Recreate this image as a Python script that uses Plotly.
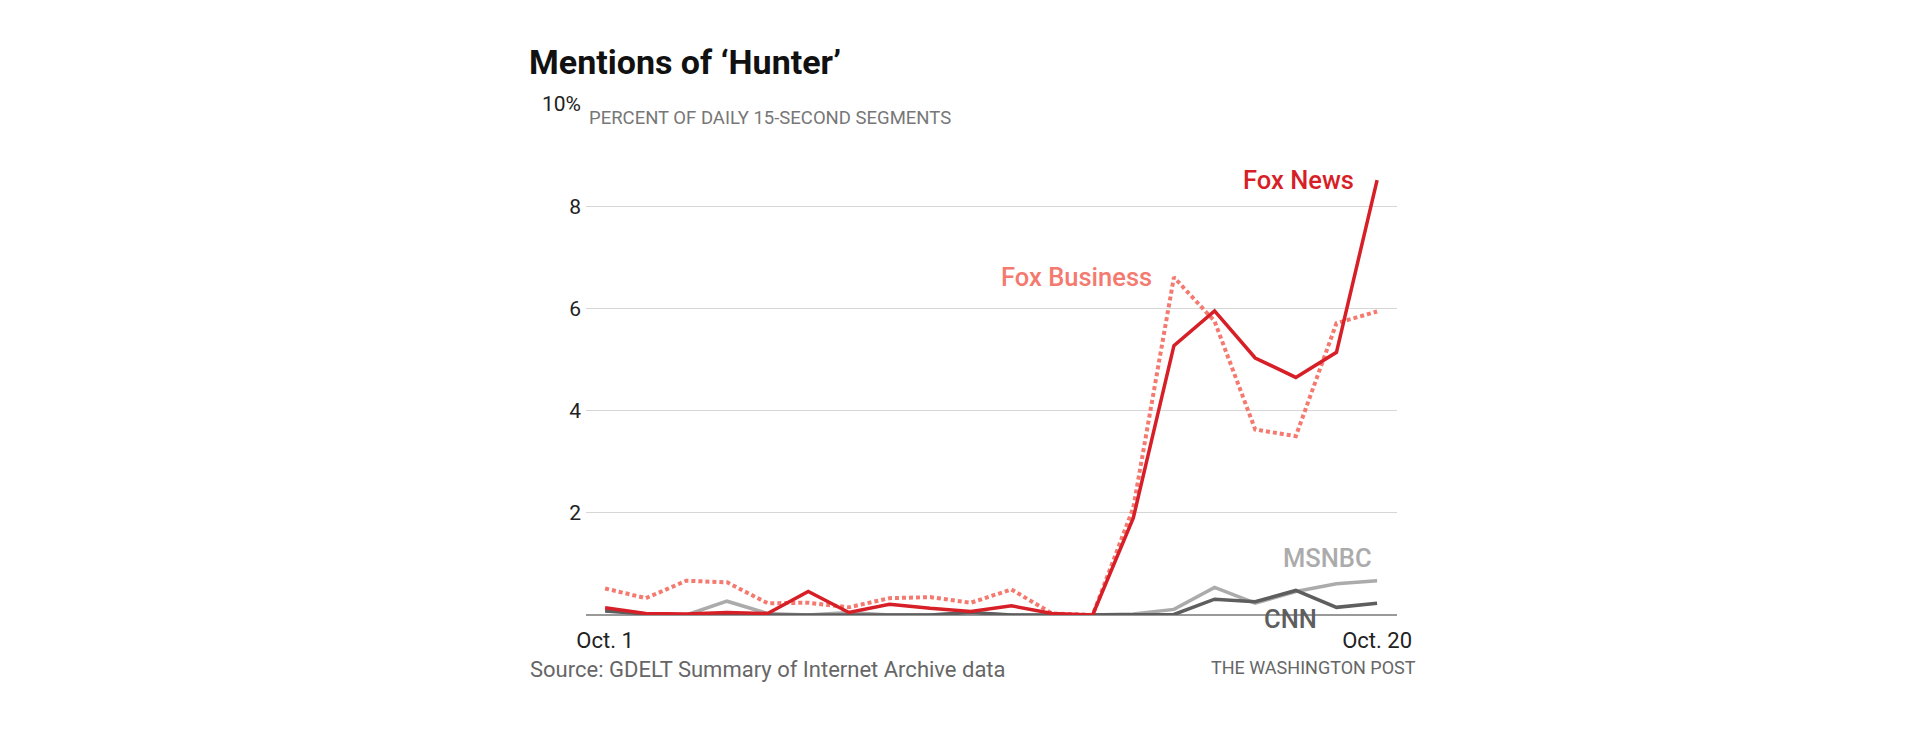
"""Mentions of 'Hunter' on cable news, Oct. 1-20: share of 15-second segments."""

import plotly.graph_objects as go

days = list(range(20))
tick_days = [0, 19]
tick_labels = ["Oct. 1", "Oct. 20"]

fox_news = [0.14, 0.03, 0.02, 0.05, 0.03, 0.46, 0.05, 0.21, 0.13, 0.07,
            0.18, 0.03, 0.0, 1.9, 5.27, 5.95, 5.03, 4.65, 5.14, 8.51]
fox_business = [0.52, 0.33, 0.67, 0.64, 0.23, 0.24, 0.15, 0.33, 0.35, 0.24,
                0.5, 0.03, 0.0, 2.1, 6.61, 5.75, 3.63, 3.5, 5.71, 5.94]
msnbc = [0.1, 0.02, 0.0, 0.27, 0.03, 0.0, 0.05, 0.0, 0.0, 0.03,
         0.0, 0.0, 0.0, 0.02, 0.11, 0.54, 0.23, 0.46, 0.61, 0.67]
cnn = [0.08, 0.02, 0.0, 0.0, 0.01, 0.0, 0.0, 0.0, 0.0, 0.05,
       0.0, 0.0, 0.0, 0.0, 0.01, 0.31, 0.26, 0.48, 0.15, 0.23]

RED = "#d71f28"
SALMON = "#f47a70"
LIGHT = "#ababab"
DARK = "#5e5e5e"
FONT = "Roboto"

fig = go.Figure()
fig.add_trace(go.Scatter(x=days, y=msnbc, mode="lines", line=dict(color=LIGHT, width=3.5)))
fig.add_trace(go.Scatter(x=days, y=cnn, mode="lines", line=dict(color=DARK, width=3.5)))
fig.add_trace(go.Scatter(x=days, y=fox_business, mode="lines",
                         line=dict(color=SALMON, width=4, dash="4px,3px")))
fig.add_trace(go.Scatter(x=days, y=fox_news, mode="lines", line=dict(color=RED, width=3.5)))

# series labels: (text, x, y, anchor, colour, pixel shift down)
labels = [
    ("Fox News", 18.47, 8.51, "right", RED, 0),
    ("Fox Business", 13.5, 6.61, "right", SALMON, 0),
    ("MSNBC", 17.78, 1.12, "center", LIGHT, 0),
    ("CNN", 16.87, 0.0, "center", DARK, -4),
]
for text, x, y, anchor, color, shift in labels:
    fig.add_annotation(x=x, y=y, yshift=shift, text=text, showarrow=False, xanchor=anchor,
                       yanchor="middle", font=dict(family=FONT, size=25.5, color=color, weight=500))

# page furniture, placed in paper units
fig.add_annotation(xref="paper", yref="paper", x=-0.073, y=1.082, text="Mentions of ‘Hunter’",
                   showarrow=False, xanchor="left", yanchor="middle",
                   font=dict(family=FONT, size=34, color="#111111", weight=700))
fig.add_annotation(xref="paper", yref="paper", x=0.001, y=0.973,
                   text="PERCENT OF DAILY 15-SECOND SEGMENTS", showarrow=False,
                   xanchor="left", yanchor="middle", font=dict(family=FONT, size=18.5, color="#777777"))
fig.add_annotation(xref="paper", yref="paper", x=-0.0715, y=-0.1076,
                   text="Source: GDELT Summary of Internet Archive data", showarrow=False,
                   xanchor="left", yanchor="middle", font=dict(family=FONT, size=22, color="#666666"))
fig.add_annotation(xref="paper", yref="paper", x=1.026, y=-0.1018, text="THE WASHINGTON POST",
                   showarrow=False, xanchor="right", yanchor="middle",
                   font=dict(family=FONT, size=18, color="#666666"))

fig.update_xaxes(range=[-0.47, 19.49], tickvals=tick_days, ticktext=tick_labels,
                 showgrid=False, zeroline=False, showline=False, ticklabelstandoff=10,
                 tickfont=dict(family=FONT, size=22, color="#222222"))
fig.update_yaxes(range=[0, 10], tickvals=[0, 2, 4, 6, 8, 10],
                 ticktext=["", "2", "4", "6", "8", "10%"],
                 showgrid=True, gridcolor="#d6d6d6", gridwidth=1,
                 zeroline=True, zerolinecolor="#999999", zerolinewidth=1.5,
                 showline=False, ticklabelstandoff=4,
                 tickfont=dict(family=FONT, size=21, color="#222222"))
# the page body adds 8px, so the figure is 16px smaller and shifted back
fig.update_layout(width=1904, height=724, showlegend=False,
                  plot_bgcolor="white", paper_bgcolor="white",
                  margin=dict(l=578, r=515, t=96, b=117))
fig.write_html("out.html")
